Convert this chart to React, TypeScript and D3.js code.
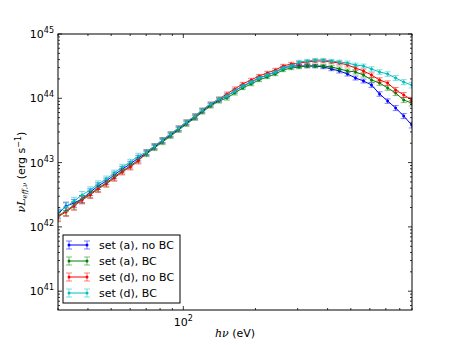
import React, { useEffect, useRef } from 'react';
import * as d3 from 'd3';

// photon energy (eV)
const energy = [30, 32.4, 35.0, 37.8, 40.9, 44.1, 47.7, 51.5, 55.6, 60.1, 64.9, 70.2, 75.8, 81.9, 88.5, 95.6, 103, 112, 120, 130, 141, 152, 164, 177, 192, 207, 224, 242, 261, 282, 304, 329, 355, 384, 415, 448, 484, 523, 565, 610, 659, 712, 769, 831, 898];

// nu L_nu,eff in units of 1e42 erg/s
const setANoBC = [1.59, 2.11, 2.35, 2.72, 3.49, 4.33, 5.18, 6.41, 7.95, 9.51, 11.8, 14.1, 17.5, 21.7, 26.9, 33.3, 41.3, 51.2, 63.5, 78.7, 94.1, 109, 130, 155, 179, 207, 230, 257, 296, 318, 318, 318, 318, 307, 286, 266, 239, 207, 186, 161, 117, 90.8, 70.7, 53.1, 38.4];
const setABC = [1.48, 1.77, 2.19, 2.72, 3.25, 4.03, 4.82, 5.97, 7.40, 8.86, 11.0, 13.6, 16.9, 20.9, 25.9, 32.1, 39.8, 49.4, 61.2, 75.9, 90.8, 101, 121, 145, 167, 193, 215, 239, 276, 296, 307, 318, 318, 318, 307, 286, 266, 257, 230, 193, 173, 145, 121, 94.1, 84.5];
const setDNoBC = [1.43, 1.71, 2.11, 2.62, 3.14, 3.89, 4.65, 5.76, 7.14, 8.54, 10.6, 14.6, 18.1, 22.5, 27.9, 34.5, 42.8, 53.1, 65.8, 81.6, 97.6, 117, 140, 167, 193, 222, 248, 276, 318, 342, 354, 367, 380, 380, 367, 354, 330, 296, 266, 230, 193, 173, 135, 113, 94.1];
const setDBC = [1.70, 2.04, 2.53, 3.14, 3.75, 4.65, 5.56, 6.89, 8.54, 10.2, 12.7, 14.6, 18.1, 22.5, 27.9, 34.5, 42.8, 53.1, 65.8, 81.6, 97.6, 109, 130, 155, 179, 207, 230, 257, 296, 318, 367, 380, 394, 394, 380, 367, 354, 330, 318, 286, 257, 239, 207, 179, 161];

// fractional error bar half-size
const relErr = [0.16, 0.15, 0.14, 0.13, 0.12, 0.12, 0.11, 0.11, 0.1, 0.1, 0.1, 0.09, 0.09, 0.09, 0.08, 0.08, 0.08, 0.08, 0.07, 0.07, 0.07, 0.07, 0.07, 0.06, 0.06, 0.06, 0.06, 0.06, 0.06, 0.06, 0.06, 0.06, 0.06, 0.06, 0.06, 0.07, 0.07, 0.07, 0.07, 0.08, 0.08, 0.08, 0.09, 0.09, 0.1];

const seriesLabels = ['set (a), no BC', 'set (a), BC', 'set (d), no BC', 'set (d), BC'];
const seriesColors = ['#0000ff', '#008000', '#ff0000', '#00bfbf'];
const seriesValues = [setANoBC, setABC, setDNoBC, setDBC];

const xMajor = [100];
const yMajor = [41, 42, 43, 44, 45];

const FONT = '"DejaVu Sans", sans-serif';
const MATH = '"DejaVu Serif", serif';

export default function App() {
  const svgRef = useRef<SVGSVGElement>(null);

  useEffect(() => {
    const svg = d3.select(svgRef.current);
    svg.selectAll('*').remove();

    const left = 58, right = 412, top = 34, bottom = 310;
    const x = d3.scaleLog().domain([30, 900]).range([left, right]);
    const y = d3.scaleLog().domain([5.1e40, 1e45]).range([bottom, top]);

    svg.append('rect').attr('width', 458).attr('height', 345).attr('fill', '#fff');

    svg.append('clipPath').attr('id', 'plotclip')
      .append('rect').attr('x', left).attr('y', top)
      .attr('width', right - left).attr('height', bottom - top);

    const plot = svg.append('g').attr('clip-path', 'url(#plotclip)');

    seriesValues.forEach((vals, si) => {
      const color = seriesColors[si];
      const pts = vals.map((v, i) => ({ e: energy[i], v: v * 1e42, err: relErr[i] }));
      const g = plot.append('g');

      // error bars (lighter)
      const eb = g.append('g').attr('stroke', color).attr('stroke-opacity', 0.5).attr('stroke-width', 1);
      pts.forEach((p) => {
        const px = x(p.e);
        const y1 = y(p.v * (1 - p.err));
        const y2 = y(p.v * (1 + p.err));
        eb.append('line').attr('x1', px).attr('x2', px).attr('y1', y1).attr('y2', y2);
        eb.append('line').attr('x1', px - 3).attr('x2', px + 3).attr('y1', y1).attr('y2', y1);
        eb.append('line').attr('x1', px - 3).attr('x2', px + 3).attr('y1', y2).attr('y2', y2);
      });

      const line = d3.line<{ e: number; v: number }>().x((d) => x(d.e)).y((d) => y(d.v));
      g.append('path').attr('d', line(pts)).attr('fill', 'none').attr('stroke', color).attr('stroke-width', 1);

      g.selectAll('circle').data(pts).enter().append('circle')
        .attr('cx', (d) => x(d.e)).attr('cy', (d) => y(d.v)).attr('r', 1.5).attr('fill', color);
    });

    // ticks, inward on all four sides
    const ticks = svg.append('g').attr('stroke', '#000').attr('stroke-width', 0.8);
    x.ticks().forEach((t) => {
      const major = xMajor.includes(t);
      const len = major ? 4 : 2;
      const px = x(t);
      ticks.append('line').attr('x1', px).attr('x2', px).attr('y1', bottom).attr('y2', bottom - len);
      ticks.append('line').attr('x1', px).attr('x2', px).attr('y1', top).attr('y2', top + len);
    });
    y.ticks().forEach((t) => {
      const major = yMajor.some((m) => Math.abs(Math.log10(t) - m) < 1e-6);
      const len = major ? 4 : 2;
      const py = y(t);
      ticks.append('line').attr('x1', left).attr('x2', left + len).attr('y1', py).attr('y2', py);
      ticks.append('line').attr('x1', right).attr('x2', right - len).attr('y1', py).attr('y2', py);
    });

    svg.append('rect').attr('x', left).attr('y', top).attr('width', right - left).attr('height', bottom - top)
      .attr('fill', 'none').attr('stroke', '#000').attr('stroke-width', 1);

    // tick labels
    xMajor.forEach((t) => {
      const txt = svg.append('text').attr('x', x(t)).attr('y', 326).attr('text-anchor', 'middle')
        .attr('font-family', FONT).attr('font-size', 11);
      txt.append('tspan').text('10');
      txt.append('tspan').attr('font-size', 8).attr('dy', -5).text(String(Math.log10(t)));
    });
    yMajor.forEach((m) => {
      const txt = svg.append('text').attr('x', 54).attr('y', y(Math.pow(10, m)) + 4).attr('text-anchor', 'end')
        .attr('font-family', FONT).attr('font-size', 11);
      txt.append('tspan').text('10');
      txt.append('tspan').attr('font-size', 8).attr('dy', -5).text(String(m));
    });

    // axis labels
    const xl = svg.append('text').attr('x', (left + right) / 2).attr('y', 337).attr('text-anchor', 'middle')
      .attr('font-family', FONT).attr('font-size', 11);
    xl.append('tspan').attr('font-family', MATH).attr('font-style', 'italic').text('hν');
    xl.append('tspan').text(' (eV)');

    const yl = svg.append('text').attr('transform', `translate(25,${(top + bottom) / 2}) rotate(-90)`)
      .attr('text-anchor', 'middle').attr('font-family', FONT).attr('font-size', 11);
    yl.append('tspan').attr('font-family', MATH).attr('font-style', 'italic').text('νL');
    yl.append('tspan').attr('font-family', MATH).attr('font-style', 'italic').attr('font-size', 7).attr('dy', 2).text('eff,ν');
    yl.append('tspan').attr('dy', -2).text(' (erg s');
    yl.append('tspan').attr('font-size', 8).attr('dy', -4).text('−1');
    yl.append('tspan').attr('dy', 4).text(')');

    // legend
    const lg = svg.append('g');
    lg.append('rect').attr('x', 63).attr('y', 235).attr('width', 117).attr('height', 68)
      .attr('fill', '#fff').attr('stroke', '#000').attr('stroke-width', 1);
    seriesLabels.forEach((lab, i) => {
      const ry = 245 + i * 16;
      const color = seriesColors[i];
      const x1 = 69, x2 = 87;
      const e = lg.append('g').attr('stroke', color).attr('stroke-opacity', 0.5);
      [x1, x2].forEach((px) => {
        e.append('line').attr('x1', px).attr('x2', px).attr('y1', ry - 4).attr('y2', ry + 4);
        e.append('line').attr('x1', px - 3).attr('x2', px + 3).attr('y1', ry - 4).attr('y2', ry - 4);
        e.append('line').attr('x1', px - 3).attr('x2', px + 3).attr('y1', ry + 4).attr('y2', ry + 4);
      });
      lg.append('line').attr('x1', x1).attr('x2', x2).attr('y1', ry).attr('y2', ry).attr('stroke', color);
      [x1, x2].forEach((px) => lg.append('circle').attr('cx', px).attr('cy', ry).attr('r', 1.5).attr('fill', color));
      lg.append('text').attr('x', 99).attr('y', ry + 4).attr('font-family', FONT).attr('font-size', 11).text(lab);
    });
  }, []);

  return (
    <svg ref={svgRef} width={458} height={345} style={{ position: 'absolute', left: 0, top: 0 }} />
  );
}
